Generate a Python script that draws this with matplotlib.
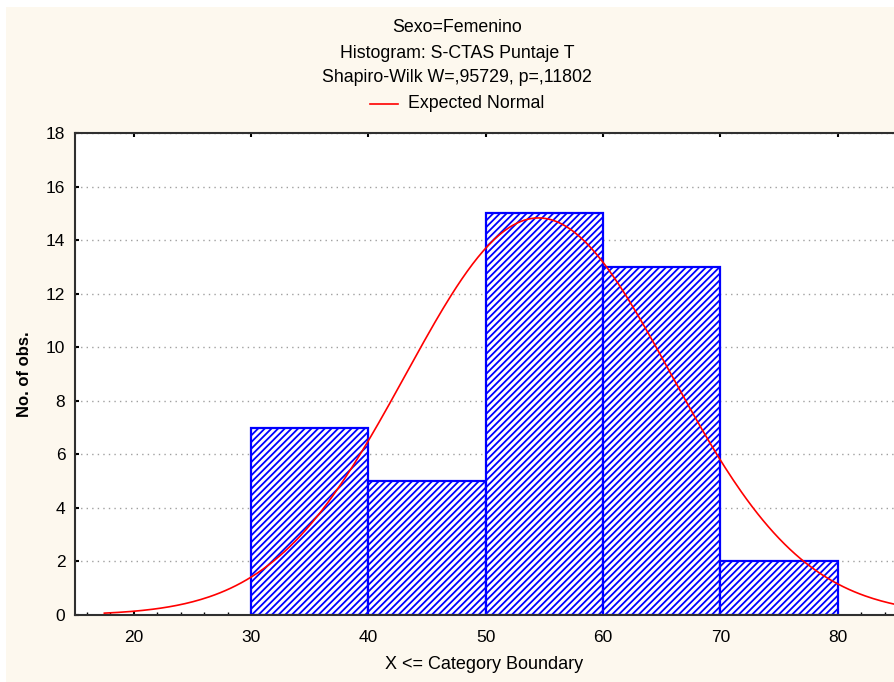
import numpy as np
import matplotlib.pyplot as plt
from matplotlib.patches import Rectangle
from matplotlib.lines import Line2D

plt.rcParams['font.family'] = ['Liberation Sans', 'DejaVu Sans']
plt.rcParams['hatch.linewidth'] = 1.3

# bins and counts
bin_edges = [30, 40, 50, 60, 70, 80]
counts = [7, 5, 15, 13, 2]
# expected normal parameters
n_obs = 42
mean_val = 54.5
sd_val = 11.3
bin_width = 10

title_lines = ["Sexo=Femenino", "Histogram: S-CTAS Puntaje T",
               "Shapiro-Wilk W=,95729, p=,11802"]
xticks = [20, 30, 40, 50, 60, 70, 80]
yticks = [0, 2, 4, 6, 8, 10, 12, 14, 16, 18]

W, H = 894, 682
fig = plt.figure(figsize=(W / 100, H / 100), dpi=100)
fig.patch.set_facecolor('white')
fig.patches.append(Rectangle((6 / W, 0), 1, 1 - 7 / H, transform=fig.transFigure,
                             facecolor='#fdf8ee', edgecolor='none', zorder=-10))

ax = fig.add_axes([75 / W, (H - 615) / H, 1 - 75 / W, (615 - 133) / H])
ax.set_facecolor('white')

lefts = bin_edges[:-1]
ax.bar(lefts, counts, width=np.diff(bin_edges), align='edge', facecolor='white',
       edgecolor='#0000ff', hatch='/////', linewidth=1.6, zorder=2)

xs = np.linspace(17.5, 86, 300)
ys = n_obs * bin_width / (sd_val * np.sqrt(2 * np.pi)) * np.exp(-0.5 * ((xs - mean_val) / sd_val) ** 2)
ax.plot(xs, ys, color='#ff0000', linewidth=1.2, zorder=3)

ax.set_xlim(15, 84.8)
ax.set_ylim(0, 18)
ax.set_xticks(xticks)
ax.set_yticks(yticks)
ax.set_xticks(np.arange(16, 85, 2), minor=True)
ax.yaxis.grid(True, linestyle=(0, (1, 3)), color='#a0a0a0', linewidth=1.0, zorder=0)
ax.set_axisbelow(True)
ax.tick_params(axis='both', which='major', direction='in', length=3, width=1.5,
               labelsize=12.5, top=True)
ax.tick_params(axis='y', which='major', pad=7)
ax.tick_params(axis='x', which='major', pad=11)
ax.tick_params(axis='x', which='minor', direction='in', length=2, width=1, top=False)
ax.tick_params(axis='y', which='minor', left=False)
for side in ['left', 'bottom', 'top']:
    ax.spines[side].set_linewidth(1.5)
    ax.spines[side].set_color('#303030')
ax.spines['right'].set_visible(False)

ax.set_ylabel("No. of obs.", fontsize=12, fontweight='bold', labelpad=10)
ax.set_xlabel("X <= Category Boundary", fontsize=13, labelpad=8)

cx = 0.511
for i, t in enumerate(title_lines):
    fig.text(cx, 1 - (28 + 25 * i) / H, t, ha='center', va='center', fontsize=12.8)
fig.lines.append(Line2D([370 / W, 398 / W], [1 - 104 / H] * 2, color='#ff0000',
                        linewidth=1.2, transform=fig.transFigure))
fig.text(408 / W, 1 - 104 / H, "Expected Normal", ha='left', va='center', fontsize=12.8)

fig.savefig('out.png', dpi=100)
